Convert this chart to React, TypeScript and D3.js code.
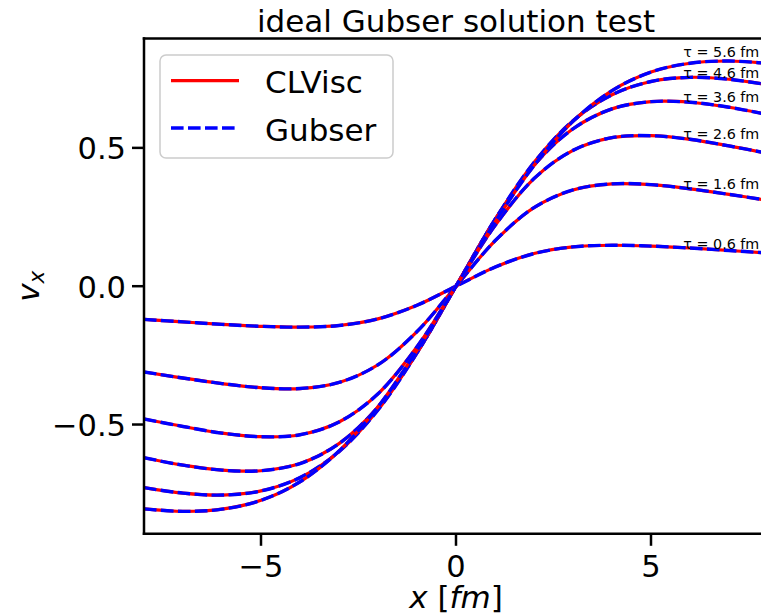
import React from "react";
import * as d3 from "d3";

// Sample positions along x [fm]
const X_GRID = [-8, -7, -6, -5, -4, -3, -2, -1, 0, 1, 2, 3, 4, 5, 6, 7, 8];

// Proper times of the snapshots [fm]
const TAUS = [0.6, 1.6, 2.6, 3.6, 4.6, 5.6];

// v_x along the x axis for each proper time
const VX_TAU_0_6 = [-0.120, -0.129, -0.138, -0.145, -0.148, -0.142, -0.118, -0.069, 0, 0.069, 0.118, 0.142, 0.148, 0.145, 0.138, 0.129, 0.120];
const VX_TAU_1_6 = [-0.310, -0.332, -0.352, -0.367, -0.370, -0.348, -0.284, -0.164, 0, 0.164, 0.284, 0.348, 0.370, 0.367, 0.352, 0.332, 0.310];
const VX_TAU_2_6 = [-0.480, -0.507, -0.531, -0.544, -0.537, -0.491, -0.389, -0.219, 0, 0.219, 0.389, 0.491, 0.537, 0.544, 0.531, 0.507, 0.480];
const VX_TAU_3_6 = [-0.620, -0.647, -0.665, -0.667, -0.641, -0.569, -0.437, -0.240, 0, 0.240, 0.437, 0.569, 0.641, 0.667, 0.665, 0.647, 0.620];
const VX_TAU_4_6 = [-0.728, -0.748, -0.755, -0.740, -0.692, -0.598, -0.447, -0.241, 0, 0.241, 0.447, 0.598, 0.692, 0.740, 0.755, 0.748, 0.728];
const VX_TAU_5_6 = [-0.805, -0.814, -0.806, -0.774, -0.707, -0.596, -0.436, -0.232, 0, 0.232, 0.436, 0.596, 0.707, 0.774, 0.806, 0.814, 0.805];

const VX_SERIES = [VX_TAU_0_6, VX_TAU_1_6, VX_TAU_2_6, VX_TAU_3_6, VX_TAU_4_6, VX_TAU_5_6];

// Annotation anchors for the tau labels (data coordinates)
const TAU_LABEL_X = 5.83;
const TAU_LABEL_Y = [0.135, 0.352, 0.531, 0.666, 0.7525, 0.8285];

const X_TICKS = [-5, 0, 5];
const Y_TICKS = [-0.5, 0, 0.5];

const LEGEND_NAMES = ["CLVisc", "Gubser"];

const W = 761;
const H = 615;
const FONT = "'DejaVu Sans', sans-serif";

export default function App() {
  const left = 144;
  const right = 768;
  const top = 38.6;
  const bottom = 533.8;

  const x = d3.scaleLinear().domain([-8, 8]).range([left, right]);
  const y = d3.scaleLinear().domain([-0.895, 0.895]).range([bottom, top]);

  const line = d3
    .line<[number, number]>()
    .x((d) => x(d[0]))
    .y((d) => y(d[1]))
    .curve(d3.curveCatmullRom.alpha(0.5));

  const fmt = (v: number) => (v < 0 ? "\u2212" : "") + Math.abs(v).toFixed(1);
  const fmtX = (v: number) => (v < 0 ? "\u2212" : "") + Math.abs(v).toString();

  const red = "#ff0000";
  const blue = "#0000ff";
  const dash = "12.6,4.4";

  return (
    <svg
      width={W}
      height={H}
      style={{ position: "absolute", left: 0, top: 0, background: "#fff" }}
      fontFamily={FONT}
    >
      <defs>
        <clipPath id="plot-area">
          <rect x={left} y={top} width={right - left} height={bottom - top} />
        </clipPath>
      </defs>
      <rect x={0} y={0} width={W} height={H} fill="#fff" />

      {/* curves */}
      <g clipPath="url(#plot-area)">
        {VX_SERIES.map((vals, i) => {
          const pts = X_GRID.map((xv, j) => [xv, vals[j]] as [number, number]);
          const d = line(pts) || "";
          return (
            <g key={i}>
              <path d={d} fill="none" stroke={red} strokeWidth={3.2} />
              <path d={d} fill="none" stroke={blue} strokeWidth={3.4} strokeDasharray={dash} />
            </g>
          );
        })}
      </g>

      {/* tau annotations */}
      {TAUS.map((t, i) => (
        <text
          key={t}
          x={x(TAU_LABEL_X)}
          y={y(TAU_LABEL_Y[i])}
          fontSize={14.3}
          fill="#000"
        >
          {`\u03c4 = ${t.toFixed(1)} fm`}
        </text>
      ))}

      {/* spines */}
      <g stroke="#000" strokeWidth={2.5} fill="none">
        <line x1={left} x2={left} y1={top} y2={bottom} strokeLinecap="square" />
        <line x1={left} x2={right} y1={bottom} y2={bottom} strokeLinecap="square" />
        <line x1={left} x2={right} y1={top} y2={top} strokeLinecap="square" />
        <line x1={right} x2={right} y1={top} y2={bottom} strokeLinecap="square" />
      </g>

      {/* x axis ticks */}
      {X_TICKS.map((t) => (
        <g key={t}>
          <line x1={x(t)} x2={x(t)} y1={bottom} y2={bottom + 12} stroke="#000" strokeWidth={2.5} />
          <text x={x(t)} y={576.5} textAnchor="middle" fontSize={30.5} fill="#000">
            {fmtX(t)}
          </text>
        </g>
      ))}

      {/* y axis ticks */}
      {Y_TICKS.map((t) => (
        <g key={t}>
          <line x1={left - 12} x2={left} y1={y(t)} y2={y(t)} stroke="#000" strokeWidth={2.5} />
          <text x={126} y={y(t) + 11.5} textAnchor="end" fontSize={30.5} fill="#000">
            {fmt(t)}
          </text>
        </g>
      ))}

      {/* axis labels */}
      <text x={(left + right) / 2} y={608} textAnchor="middle" fontSize={31} fill="#000">
        <tspan fontStyle="italic">x</tspan>
        <tspan> [</tspan>
        <tspan fontStyle="italic">fm</tspan>
        <tspan>]</tspan>
      </text>
      <text
        transform={`translate(39,${(top + bottom) / 2}) rotate(-90)`}
        textAnchor="middle"
        fontSize={31}
        fill="#000"
      >
        <tspan fontStyle="italic">v</tspan>
        <tspan fontStyle="italic" fontSize={21.5} dy={5}>
          x
        </tspan>
      </text>

      {/* title */}
      <text x={(left + right) / 2} y={31.5} textAnchor="middle" fontSize={31} fill="#000">
        ideal Gubser solution test
      </text>

      {/* legend */}
      <g>
        <rect
          x={160}
          y={55}
          width={233}
          height={103}
          rx={6}
          ry={6}
          fill="#fff"
          fillOpacity={0.8}
          stroke="#cccccc"
          strokeWidth={1.5}
        />
        <line x1={171} x2={239} y1={80.7} y2={80.7} stroke={red} strokeWidth={3.2} />
        <text x={265} y={93.3} fontSize={31} fill="#000">
          {LEGEND_NAMES[0]}
        </text>
        <line x1={171} x2={239} y1={128} y2={128} stroke={blue} strokeWidth={3.4} strokeDasharray={dash} />
        <text x={265} y={141.3} fontSize={31} fill="#000">
          {LEGEND_NAMES[1]}
        </text>
      </g>
    </svg>
  );
}
